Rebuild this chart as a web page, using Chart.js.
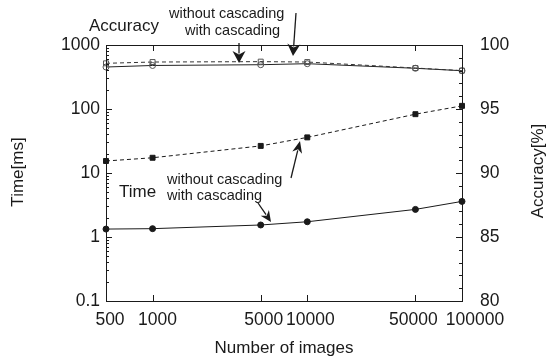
<!DOCTYPE html>
<html>
<head>
<meta charset="utf-8">
<script src="https://cdn.jsdelivr.net/npm/chart.js@4/dist/chart.umd.min.js"></script>
<style>
  html, body { margin: 0; padding: 0; background: #fff; }
  #wrap { width: 558px; height: 361px; }
</style>
</head>
<body>
<div id="wrap"><canvas id="cascadeChart" width="558" height="361"></canvas></div>
<script>
  // Number of images on the x axis
  const imageCounts = [500, 1000, 5000, 10000, 50000, 100000];
  // Processing time [ms] (left, log axis)
  const timeWithout = [15.4, 17.3, 26.5, 36, 83, 112];
  const timeWith = [1.33, 1.35, 1.54, 1.73, 2.7, 3.6];
  // Accuracy [%] (right axis)
  const accWithout = [98.57, 98.67, 98.7, 98.67, 98.2, 98.0];
  const accWith = [98.28, 98.4, 98.46, 98.54, 98.18, 97.99];

  const xTicks = [500, 1000, 5000, 10000, 50000, 100000];
  const timeTicks = [0.1, 1, 10, 100, 1000];
  const accTicks = [80, 85, 90, 95, 100];

  const FONT = '"Liberation Sans", Arial, sans-serif';
  const INK = '#1a1a1a';
  // nudge x labels so 50000 and 100000 don't run together
  const xLabelShift = [4, 5, 3, 3, -2, 13];

  function pts(ys) {
    return imageCounts.map((x, i) => ({ x: x, y: ys[i] }));
  }

  function arrow(ctx, x1, y1, x2, y2, len, half) {
    const a = Math.atan2(y2 - y1, x2 - x1);
    ctx.beginPath();
    ctx.moveTo(x1, y1);
    ctx.lineTo(x2 - Math.cos(a) * len * 0.8, y2 - Math.sin(a) * len * 0.8);
    ctx.stroke();
    ctx.beginPath();
    ctx.moveTo(x2, y2);
    ctx.lineTo(x2 - Math.cos(a) * len - Math.sin(a) * half, y2 - Math.sin(a) * len + Math.cos(a) * half);
    ctx.lineTo(x2 - Math.cos(a) * len * 0.7, y2 - Math.sin(a) * len * 0.7);
    ctx.lineTo(x2 - Math.cos(a) * len + Math.sin(a) * half, y2 - Math.sin(a) * len - Math.cos(a) * half);
    ctx.closePath();
    ctx.fill();
  }

  // Frame, inward ticks, labels and annotations (gnuplot look)
  const framePlugin = {
    id: 'frame',
    afterDraw(chart) {
      const ctx = chart.ctx;
      const a = chart.chartArea;
      const sx = chart.scales.x, sy = chart.scales.y, sy1 = chart.scales.y1;
      ctx.save();
      ctx.strokeStyle = INK;
      ctx.fillStyle = INK;
      ctx.lineWidth = 1;
      ctx.strokeRect(Math.round(a.left) + 0.5, Math.round(a.top) + 0.5,
        Math.round(a.right - a.left), Math.round(a.bottom - a.top));

      ctx.beginPath();
      xTicks.forEach(v => {
        const px = Math.round(sx.getPixelForValue(v)) + 0.5;
        ctx.moveTo(px, a.bottom); ctx.lineTo(px, a.bottom - 6);
        ctx.moveTo(px, a.top); ctx.lineTo(px, a.top + 6);
      });
      // log minor ticks on the left
      for (let d = 0.1; d < 1000; d *= 10) {
        for (let m = 1; m < 10; m++) {
          const py = Math.round(sy.getPixelForValue(d * m)) + 0.5;
          const len = m === 1 ? 6 : 3;
          ctx.moveTo(a.left, py); ctx.lineTo(a.left + len, py);
        }
      }
      // linear ticks on the right
      for (let v = 80; v <= 100; v++) {
        const py = Math.round(sy1.getPixelForValue(v)) + 0.5;
        const len = v % 5 === 0 ? 6 : 3;
        ctx.moveTo(a.right, py); ctx.lineTo(a.right - len, py);
      }
      ctx.stroke();

      ctx.font = '17.5px ' + FONT;
      ctx.textBaseline = 'middle';
      ctx.textAlign = 'center';
      xTicks.forEach((v, i) => ctx.fillText(String(v), sx.getPixelForValue(v) + xLabelShift[i], a.bottom + 19));
      ctx.textAlign = 'right';
      timeTicks.forEach(v => ctx.fillText(String(v), a.left - 6, sy.getPixelForValue(v)));
      ctx.textAlign = 'left';
      accTicks.forEach(v => ctx.fillText(String(v), a.right + 18, sy1.getPixelForValue(v)));

      ctx.font = '17px ' + FONT;
      ctx.textAlign = 'center';
      ctx.fillText('Number of images', (a.left + a.right) / 2, 348);
      ctx.save();
      ctx.translate(18, 172);
      ctx.rotate(-Math.PI / 2);
      ctx.fillText('Time[ms]', 0, 0);
      ctx.restore();
      ctx.save();
      ctx.translate(538, 171);
      ctx.rotate(-Math.PI / 2);
      ctx.fillText('Accuracy[%]', 0, 0);
      ctx.restore();

      // annotations
      ctx.textAlign = 'left';
      ctx.textBaseline = 'alphabetic';
      ctx.fillText('Accuracy', 89, 31);
      ctx.fillText('Time', 119, 197);
      ctx.font = '14.5px ' + FONT;
      ctx.fillText('without cascading', 169, 18);
      ctx.fillText('with cascading', 185, 35);
      ctx.fillText('without cascading', 167, 184);
      ctx.fillText('with cascading', 167, 200);

      ctx.lineWidth = 1.3;
      arrow(ctx, 239, 43, 239, 63, 12, 6.5);
      arrow(ctx, 296, 13, 293, 56, 12, 6.5);
      arrow(ctx, 291, 178, 300, 141, 12, 5);
      arrow(ctx, 258, 203, 271, 222, 11, 5);
      ctx.restore();
    }
  };

  new Chart(document.getElementById('cascadeChart').getContext('2d'), {
    type: 'line',
    data: {
      datasets: [
        {
          label: 'Time without cascading',
          data: pts(timeWithout),
          yAxisID: 'y',
          borderColor: INK,
          backgroundColor: INK,
          borderWidth: 1,
          borderDash: [4, 3],
          pointStyle: 'rect',
          pointRadius: 3.5,
          clip: false
        },
        {
          label: 'Time with cascading',
          data: pts(timeWith),
          yAxisID: 'y',
          borderColor: INK,
          backgroundColor: INK,
          borderWidth: 1,
          pointStyle: 'circle',
          pointRadius: 3,
          clip: false
        },
        {
          label: 'Accuracy without cascading',
          data: pts(accWithout),
          yAxisID: 'y1',
          borderColor: '#333',
          backgroundColor: 'rgba(255,255,255,0)',
          borderWidth: 1,
          borderDash: [4, 3],
          pointStyle: 'rect',
          pointRadius: 3.5,
          pointBorderColor: '#555',
          clip: false
        },
        {
          label: 'Accuracy with cascading',
          data: pts(accWith),
          yAxisID: 'y1',
          borderColor: '#222',
          backgroundColor: 'rgba(255,255,255,0)',
          borderWidth: 1,
          pointStyle: 'circle',
          pointRadius: 3,
          pointBorderColor: '#555',
          clip: false
        }
      ]
    },
    options: {
      responsive: false,
      animation: false,
      layout: { padding: { left: 106, right: 96, top: 45, bottom: 60 } },
      plugins: { legend: { display: false }, tooltip: { enabled: false } },
      scales: {
        x: { type: 'logarithmic', min: 500, max: 100000, display: false },
        y: { type: 'logarithmic', min: 0.1, max: 1000, display: false },
        y1: { type: 'linear', min: 80, max: 100, display: false }
      }
    },
    plugins: [framePlugin]
  });
</script>
</body>
</html>
